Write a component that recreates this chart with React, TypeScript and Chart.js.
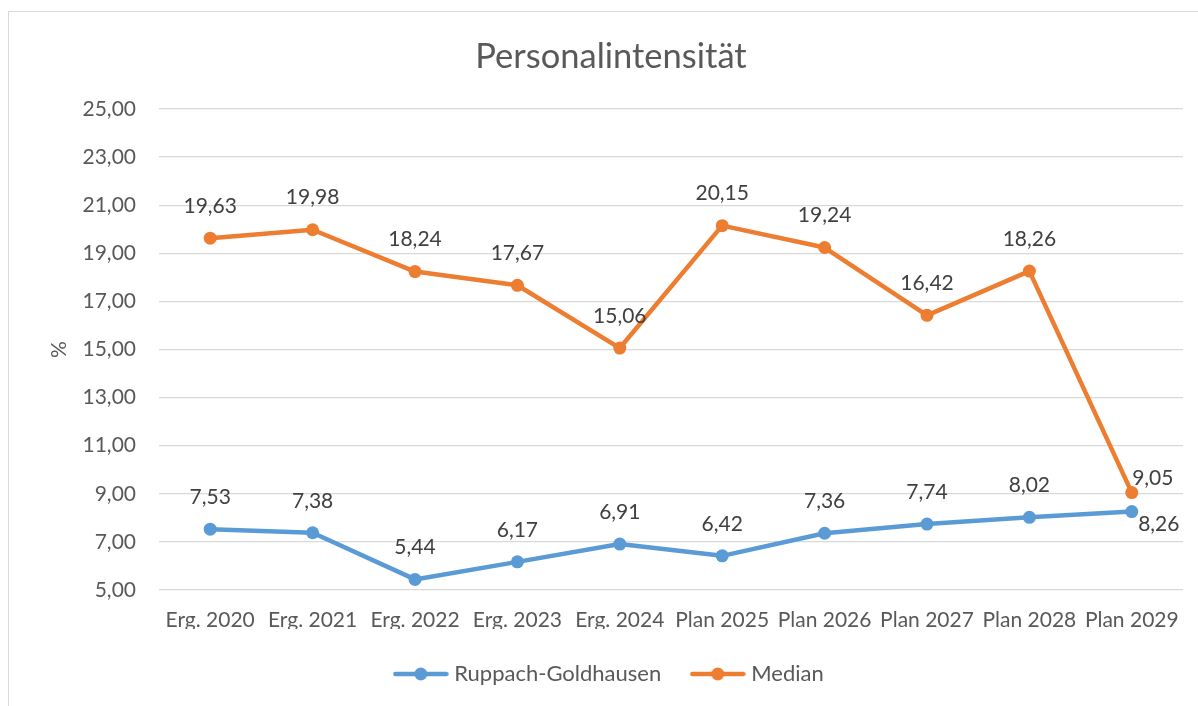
import React, { useEffect, useRef } from "react";
import { Chart, registerables } from "chart.js";

Chart.register(...registerables);

const categories = [
  "Erg. 2020",
  "Erg. 2021",
  "Erg. 2022",
  "Erg. 2023",
  "Erg. 2024",
  "Plan 2025",
  "Plan 2026",
  "Plan 2027",
  "Plan 2028",
  "Plan 2029",
];
const ruppachGoldhausen = [7.53, 7.38, 5.44, 6.17, 6.91, 6.42, 7.36, 7.74, 8.02, 8.26];
const medianValues = [19.63, 19.98, 18.24, 17.67, 15.06, 20.15, 19.24, 16.42, 18.26, 9.05];
const yMin = 5;
const yMax = 25;
const yStep = 2;

const BLUE = "#5B9BD5";
const ORANGE = "#ED7D31";
const FONT = "Lato";
const fmt = (v: number) => v.toFixed(2).replace(".", ",");

function makeLegendIcon(color: string): HTMLCanvasElement {
  const c = document.createElement("canvas");
  c.width = 56;
  c.height = 16;
  const g = c.getContext("2d")!;
  g.strokeStyle = color;
  g.lineWidth = 4.5;
  g.lineCap = "round";
  g.beginPath();
  g.moveTo(2.5, 8);
  g.lineTo(53.5, 8);
  g.stroke();
  g.fillStyle = color;
  g.beginPath();
  g.arc(28, 8, 6.5, 0, Math.PI * 2);
  g.fill();
  return c;
}

const dataLabels = {
  id: "dataLabels",
  afterDatasetsDraw(chart: any) {
    const ctx = chart.ctx;
    ctx.save();
    ctx.font = `21px ${FONT}`;
    ctx.fillStyle = "#404040";
    ctx.textAlign = "center";
    ctx.textBaseline = "middle";
    chart.data.datasets.forEach((ds: any, di: number) => {
      const meta = chart.getDatasetMeta(di);
      meta.data.forEach((pt: any, i: number) => {
        const last = i === meta.data.length - 1;
        let dx = 0;
        let dy = -32;
        if (last) {
          dx = di === 0 ? 27 : 21;
          dy = di === 0 ? 13 : -14;
        }
        ctx.fillText(fmt(ds.data[i] as number), pt.x + dx, pt.y + dy);
      });
    });
    ctx.restore();
  },
};

export default function App() {
  const ref = useRef<HTMLCanvasElement>(null);

  useEffect(() => {
    if (!ref.current) return;
    const icons = [makeLegendIcon(BLUE), makeLegendIcon(ORANGE)];
    const chart = new Chart(ref.current, {
      type: "line",
      data: {
        labels: categories,
        datasets: [
          {
            label: "Ruppach-Goldhausen",
            data: ruppachGoldhausen,
            borderColor: BLUE,
            backgroundColor: BLUE,
            borderWidth: 4.5,
            pointRadius: 6.5,
            pointBorderWidth: 0,
            pointBackgroundColor: BLUE,
            borderCapStyle: "round",
            borderJoinStyle: "round",
            tension: 0,
          },
          {
            label: "Median",
            data: medianValues,
            borderColor: ORANGE,
            backgroundColor: ORANGE,
            borderWidth: 4.5,
            pointRadius: 6.5,
            pointBorderWidth: 0,
            pointBackgroundColor: ORANGE,
            borderCapStyle: "round",
            borderJoinStyle: "round",
            tension: 0,
          },
        ],
      },
      options: {
        responsive: false,
        animation: false,
        layout: { padding: { left: 39, right: 15, top: 0, bottom: 11 } },
        plugins: {
          title: {
            display: true,
            text: "Personalintensität",
            color: "#595959",
            font: { family: FONT, size: 34.5, weight: "normal" },
            padding: { top: 36.3, bottom: 31.3 },
          },
          legend: {
            display: true,
            position: "bottom",
            labels: {
              usePointStyle: true,
              pointStyleWidth: 45,
              padding: 34,
              color: "#595959",
              font: { family: FONT, size: 22 },
              generateLabels: (ch: any) =>
                ch.data.datasets.map((ds: any, i: number) => ({
                  text: ds.label,
                  pointStyle: icons[i],
                  fillStyle: ds.borderColor,
                  strokeStyle: ds.borderColor,
                  lineWidth: 0,
                  hidden: false,
                  datasetIndex: i,
                  fontColor: "#595959",
                })),
            },
          },
          tooltip: { enabled: false },
        },
        scales: {
          x: {
            offset: true,
            grid: { display: false, drawTicks: false },
            border: { display: false },
            ticks: {
              color: "#595959",
              font: { family: FONT, size: 21 },
              padding: 18,
              maxRotation: 0,
              autoSkip: false,
            },
            afterFit: (s: any) => {
              s.height = 39;
            },
          },
          y: {
            min: yMin,
            max: yMax,
            grid: { color: "#d9d9d9", lineWidth: 1.3, drawTicks: false },
            border: { display: false },
            ticks: {
              stepSize: yStep,
              color: "#595959",
              font: { family: FONT, size: 21 },
              padding: 23,
              callback: (v: any) => fmt(Number(v)),
            },
            title: {
              display: true,
              text: "%",
              color: "#595959",
              font: { family: FONT, size: 21, weight: "normal" },
              padding: { top: 8, bottom: 0 },
            },
            afterFit: (s: any) => {
              s.width = 120;
            },
          },
        },
      },
      plugins: [dataLabels],
    });
    return () => chart.destroy();
  }, []);

  return (
    <div
      style={{
        position: "fixed",
        left: 0,
        top: 0,
        width: 1198,
        height: 706,
        overflow: "hidden",
        background: "#fff",
      }}
    >
      <div
        style={{
          position: "absolute",
          left: 8,
          top: 11,
          width: 1300,
          height: 800,
          border: "1px solid #d9d9d9",
        }}
      />
      <canvas
        ref={ref}
        width={1198}
        height={706}
        style={{ position: "absolute", left: 0, top: 0, display: "block" }}
      />
    </div>
  );
}
